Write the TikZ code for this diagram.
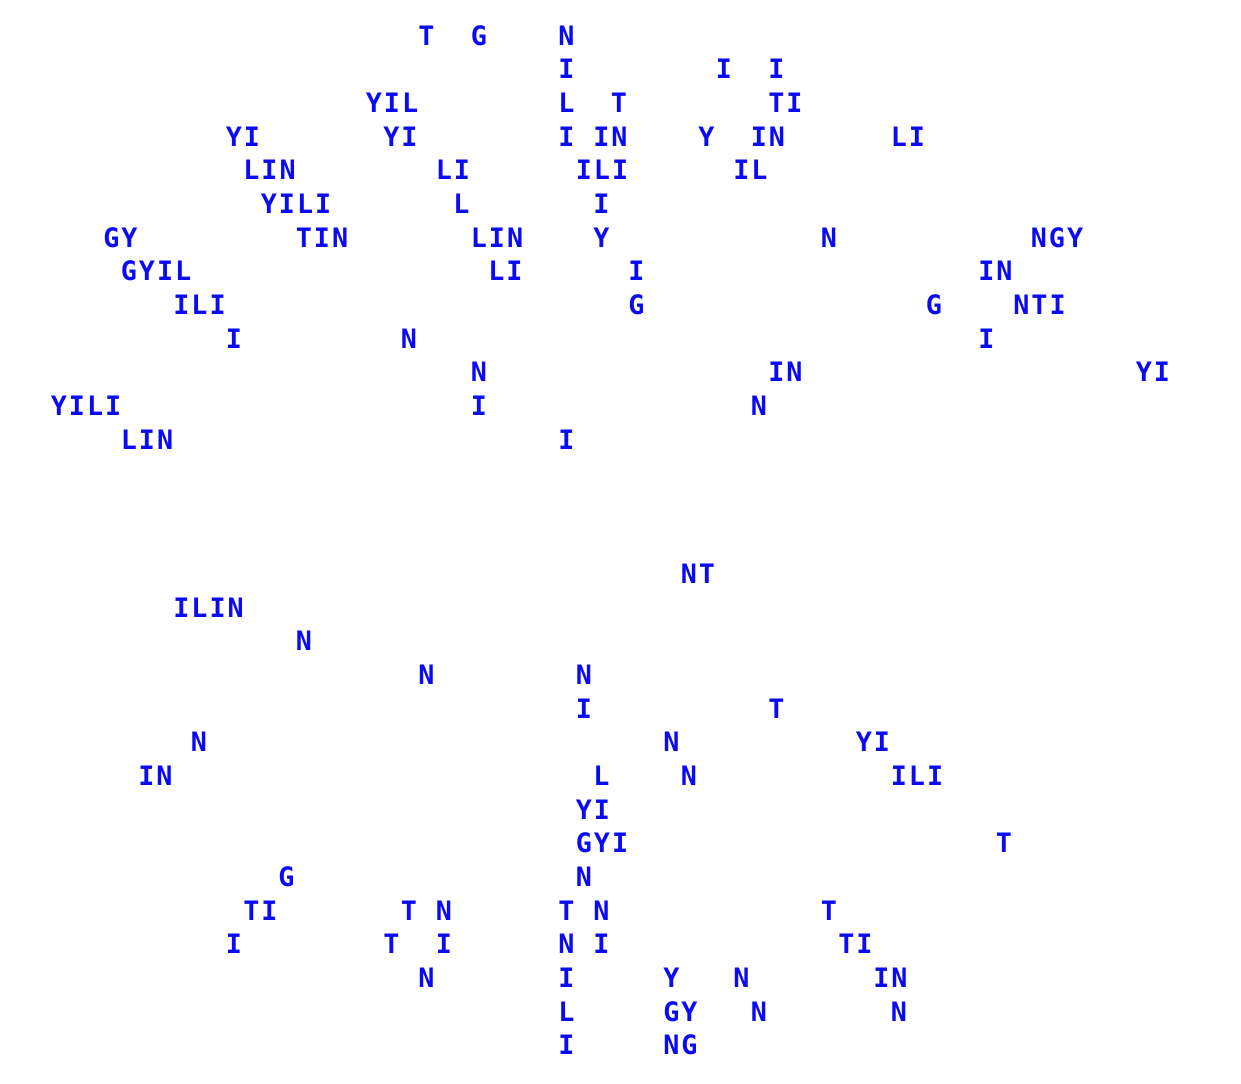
\documentclass[tikz,border=0pt]{standalone}
\usepackage{fontspec}
\usepackage{tikz}
\newfontfamily\gridfont[LetterSpace=7.5]{DejaVu Sans Mono}
\definecolor{wordblue}{RGB}{10,10,245}

\begin{document}
\begin{tikzpicture}[x=8.75pt,y=-16.825pt,
        cell/.style={anchor=base west,inner sep=0pt,xshift=-4.03pt,yshift=-5.1pt,
          text=wordblue,font=\gridfont\bfseries\fontsize{13.37pt}{16pt}\selectfont}]

  \useasboundingbox (-3pt,17.5pt) rectangle (617.5pt,-524pt);

  % upper block
  \foreach \c/\w [count=\i] in {24/T,27/G,32/N}
    \node[cell] (w0_\i) at (\c,0) {\w};
  \foreach \c/\w [count=\i] in {32/I,41/I,44/I}
    \node[cell] (w1_\i) at (\c,1) {\w};
  \foreach \c/\w [count=\i] in {21/YIL,32/L,35/T,44/TI}
    \node[cell] (w2_\i) at (\c,2) {\w};
  \foreach \c/\w [count=\i] in {13/YI,22/YI,32/I,34/IN,40/Y,43/IN,51/LI}
    \node[cell] (w3_\i) at (\c,3) {\w};
  \foreach \c/\w [count=\i] in {14/LIN,25/LI,33/ILI,42/IL}
    \node[cell] (w4_\i) at (\c,4) {\w};
  \foreach \c/\w [count=\i] in {15/YILI,26/L,34/I}
    \node[cell] (w5_\i) at (\c,5) {\w};
  \foreach \c/\w [count=\i] in {6/GY,17/TIN,27/LIN,34/Y,47/N,59/NGY}
    \node[cell] (w6_\i) at (\c,6) {\w};
  \foreach \c/\w [count=\i] in {7/GYIL,28/LI,36/I,56/IN}
    \node[cell] (w7_\i) at (\c,7) {\w};
  \foreach \c/\w [count=\i] in {10/ILI,36/G,53/G,58/NTI}
    \node[cell] (w8_\i) at (\c,8) {\w};
  \foreach \c/\w [count=\i] in {13/I,23/N,56/I}
    \node[cell] (w9_\i) at (\c,9) {\w};
  \foreach \c/\w [count=\i] in {27/N,44/IN,65/YI}
    \node[cell] (w10_\i) at (\c,10) {\w};
  \foreach \c/\w [count=\i] in {3/YILI,27/I,43/N}
    \node[cell] (w11_\i) at (\c,11) {\w};
  \foreach \c/\w [count=\i] in {7/LIN,32/I}
    \node[cell] (w12_\i) at (\c,12) {\w};

  % lower block
  \foreach \c/\w [count=\i] in {39/NT}
    \node[cell] (w16_\i) at (\c,16) {\w};
  \foreach \c/\w [count=\i] in {10/ILIN}
    \node[cell] (w17_\i) at (\c,17) {\w};
  \foreach \c/\w [count=\i] in {17/N}
    \node[cell] (w18_\i) at (\c,18) {\w};
  \foreach \c/\w [count=\i] in {24/N,33/N}
    \node[cell] (w19_\i) at (\c,19) {\w};
  \foreach \c/\w [count=\i] in {33/I,44/T}
    \node[cell] (w20_\i) at (\c,20) {\w};
  \foreach \c/\w [count=\i] in {11/N,38/N,49/YI}
    \node[cell] (w21_\i) at (\c,21) {\w};
  \foreach \c/\w [count=\i] in {8/IN,34/L,39/N,51/ILI}
    \node[cell] (w22_\i) at (\c,22) {\w};
  \foreach \c/\w [count=\i] in {33/YI}
    \node[cell] (w23_\i) at (\c,23) {\w};
  \foreach \c/\w [count=\i] in {33/GYI,57/T}
    \node[cell] (w24_\i) at (\c,24) {\w};
  \foreach \c/\w [count=\i] in {16/G,33/N}
    \node[cell] (w25_\i) at (\c,25) {\w};
  \foreach \c/\w [count=\i] in {14/TI,23/T,25/N,32/T,34/N,47/T}
    \node[cell] (w26_\i) at (\c,26) {\w};
  \foreach \c/\w [count=\i] in {13/I,22/T,25/I,32/N,34/I,48/TI}
    \node[cell] (w27_\i) at (\c,27) {\w};
  \foreach \c/\w [count=\i] in {24/N,32/I,38/Y,42/N,50/IN}
    \node[cell] (w28_\i) at (\c,28) {\w};
  \foreach \c/\w [count=\i] in {32/L,38/GY,43/N,51/N}
    \node[cell] (w29_\i) at (\c,29) {\w};
  \foreach \c/\w [count=\i] in {32/I,38/NG}
    \node[cell] (w30_\i) at (\c,30) {\w};

\end{tikzpicture}
\end{document}
